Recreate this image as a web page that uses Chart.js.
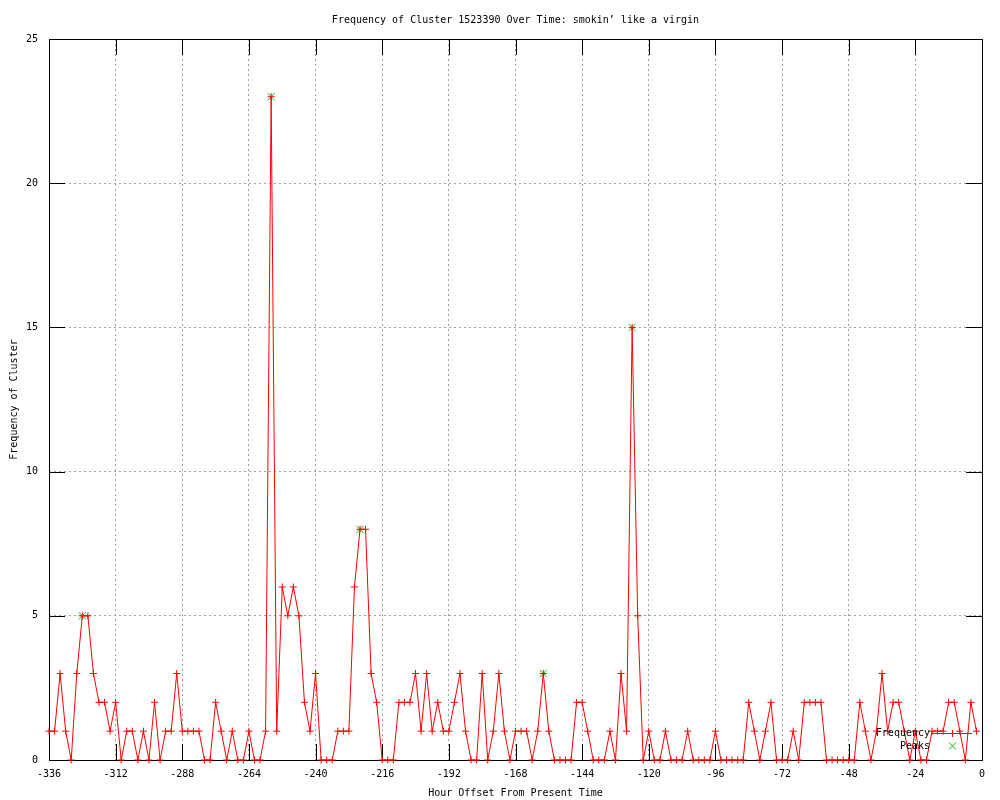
<!DOCTYPE html>
<html>
<head>
<meta charset="utf-8">
<script src="https://cdn.jsdelivr.net/npm/chart.js@4.4.1/dist/chart.umd.min.js"></script>
<style>
html,body{margin:0;padding:0;background:#fff;}
canvas{display:block;}
</style>
</head>
<body>
<canvas id="c" width="1000" height="800"></canvas>
<script>
const chartTitle = "Frequency of Cluster 1523390 Over Time: smokin\u2019 like a virgin";
const xTitle = "Hour Offset From Present Time";
const yTitle = "Frequency of Cluster";

const hours = [
-336,-334,-332,-330,-328,-326,-324,-322,-320,-318,
-316,-314,-312,-310,-308,-306,-304,-302,-300,-298,
-296,-294,-292,-290,-288,-286,-284,-282,-280,-278,
-276,-274,-272,-270,-268,-266,-264,-262,-260,-258,
-256,-254,-252,-250,-248,-246,-244,-242,-240,-238,
-236,-234,-232,-230,-228,-226,-224,-222,-220,-218,
-216,-214,-212,-210,-208,-206,-204,-202,-200,-198,
-196,-194,-192,-190,-188,-186,-184,-182,-180,-178,
-176,-174,-172,-170,-168,-166,-164,-162,-160,-158,
-156,-154,-152,-150,-148,-146,-144,-142,-140,-138,
-136,-134,-132,-130,-128,-126,-124,-122,-120,-118,
-116,-114,-112,-110,-108,-106,-104,-102,-100,-98,
-96,-94,-92,-90,-88,-86,-84,-82,-80,-78,
-76,-74,-72,-70,-68,-66,-64,-62,-60,-58,
-56,-54,-52,-50,-48,-46,-44,-42,-40,-38,
-36,-34,-32,-30,-28,-26,-24,-22,-20,-18,
-16,-14,-12,-10,-8,-6,-4,-2
];

const frequency = [
1,1,3,1,0,3,5,5,3,2,
2,1,2,0,1,1,0,1,0,2,
0,1,1,3,1,1,1,1,0,0,
2,1,0,1,0,0,1,0,0,1,
23,1,6,5,6,5,2,1,3,0,
0,0,1,1,1,6,8,8,3,2,
0,0,0,2,2,2,3,1,3,1,
2,1,1,2,3,1,0,0,3,0,
1,3,1,0,1,1,1,0,1,3,
1,0,0,0,0,2,2,1,0,0,
0,1,0,3,1,15,5,0,1,0,
0,1,0,0,0,1,0,0,0,0,
1,0,0,0,0,0,2,1,0,1,
2,0,0,0,1,0,2,2,2,2,
0,0,0,0,0,0,2,1,0,1,
3,1,2,2,1,0,1,0,0,1,
1,1,2,2,1,0,2,1
];

const peakHours = [-324, -256, -224, -158, -126];
const peakValues = [5, 23, 8, 3, 15];

const xMin = -336, xMax = 0, xStep = 24;
const yMin = 0, yMax = 25, yStep = 5;

const seriesNames = ["Frequency", "Peaks"];

const RED = '#ff0000';
const GREEN = '#00c000';
const FONT = "'DejaVu Sans Mono', 'Liberation Mono', monospace";

Chart.defaults.font.family = FONT;
Chart.defaults.font.size = 10;
Chart.defaults.color = '#000';

const freqData = hours.map((h, i) => ({x: h, y: frequency[i]}));
const peakData = peakHours.map((h, i) => ({x: h, y: peakValues[i]}));

const framePlugin = {
  id: 'gnuframe',
  beforeDatasetsDraw(chart) {
    const ctx = chart.ctx;
    const a = chart.chartArea;
    const xs = chart.scales.x, ys = chart.scales.y;
    const L = 16;
    ctx.save();
    ctx.strokeStyle = '#000';
    ctx.lineWidth = 1;
    ctx.beginPath();
    xs.ticks.forEach(t => {
      const px = Math.round(xs.getPixelForValue(t.value)) + 0.5;
      ctx.moveTo(px, a.bottom); ctx.lineTo(px, a.bottom - L);
      ctx.moveTo(px, a.top); ctx.lineTo(px, a.top + L);
    });
    ys.ticks.forEach(t => {
      const py = Math.round(ys.getPixelForValue(t.value)) + 0.5;
      ctx.moveTo(a.left, py); ctx.lineTo(a.left + L, py);
      ctx.moveTo(a.right, py); ctx.lineTo(a.right - L, py);
    });
    ctx.stroke();
    ctx.strokeRect(Math.round(a.left) + 0.5, Math.round(a.top) + 0.5,
                   Math.round(a.right - a.left), Math.round(a.bottom - a.top));
    ctx.restore();
  },
  afterDraw(chart) {
    const ctx = chart.ctx;
    const a = chart.chartArea;
    ctx.save();
    ctx.font = "10px " + FONT;
    ctx.fillStyle = '#000';
    ctx.textAlign = 'right';
    ctx.textBaseline = 'middle';
    const tx = a.right - 52;
    const y1 = a.bottom - 27, y2 = a.bottom - 14;
    ctx.fillText(seriesNames[0], tx, y1);
    ctx.fillText(seriesNames[1], tx, y2);
    // Frequency sample
    ctx.strokeStyle = RED; ctx.lineWidth = 1;
    ctx.beginPath();
    ctx.moveTo(tx + 2, y1 + 0.5); ctx.lineTo(tx + 42, y1 + 0.5);
    const cx = tx + 22.5;
    ctx.moveTo(cx, y1 - 3); ctx.lineTo(cx, y1 + 4);
    ctx.stroke();
    // Peaks sample
    ctx.strokeStyle = GREEN;
    ctx.beginPath();
    ctx.moveTo(cx - 3.5, y2 - 3.5); ctx.lineTo(cx + 3.5, y2 + 3.5);
    ctx.moveTo(cx + 3.5, y2 - 3.5); ctx.lineTo(cx - 3.5, y2 + 3.5);
    ctx.stroke();
    ctx.restore();
  }
};

new Chart(document.getElementById('c'), {
  type: 'line',
  data: {
    datasets: [
      {
        label: seriesNames[0],
        data: freqData,
        borderColor: RED,
        borderWidth: 1,
        tension: 0,
        fill: false,
        pointStyle: 'cross',
        pointRadius: 3.5,
        pointBorderColor: RED,
        pointBorderWidth: 1,
        clip: false
      },
      {
        label: seriesNames[1],
        data: peakData,
        showLine: false,
        borderColor: GREEN,
        pointStyle: 'crossRot',
        pointRadius: 5,
        pointBorderColor: GREEN,
        pointBorderWidth: 1,
        clip: false
      }
    ]
  },
  options: {
    responsive: false,
    animation: false,
    events: [],
    layout: { padding: { left: 0, right: 18, top: 0, bottom: 0 } },
    plugins: {
      legend: { display: false },
      tooltip: { enabled: false },
      title: {
        display: true,
        text: chartTitle,
        fullSize: false,
        color: '#000',
        font: { size: 10, weight: 'normal', family: FONT },
        padding: { top: 14, bottom: 13 }
      }
    },
    scales: {
      x: {
        type: 'linear',
        min: xMin, max: xMax,
        afterBuildTicks(scale) {
          const t = [];
          for (let v = xMin; v <= xMax; v += xStep) t.push({value: v});
          scale.ticks = t;
        },
        ticks: { stepSize: xStep, padding: 8, maxRotation: 0, autoSkip: false, color: '#000',
                 font: { size: 10, family: FONT } },
        grid: { color: '#a0a0a0', lineWidth: 1, drawTicks: false },
        border: { display: false, dash: [2, 3] },
        title: { display: true, text: xTitle, color: '#000', font: { size: 10, family: FONT },
                 padding: { top: 2, bottom: 1 } },
        afterFit(scale) { scale.height = 40; }
      },
      y: {
        type: 'linear',
        min: yMin, max: yMax,
        ticks: { stepSize: yStep, padding: 11, color: '#000', font: { size: 10, family: FONT } },
        grid: { color: '#a0a0a0', lineWidth: 1, drawTicks: false },
        border: { display: false, dash: [2, 3] },
        title: { display: true, text: yTitle, color: '#000', font: { size: 10, family: FONT },
                 padding: { top: 8, bottom: 2 } },
        afterFit(scale) { scale.width = 49; }
      }
    }
  },
  plugins: [framePlugin]
});
</script>
</body>
</html>
